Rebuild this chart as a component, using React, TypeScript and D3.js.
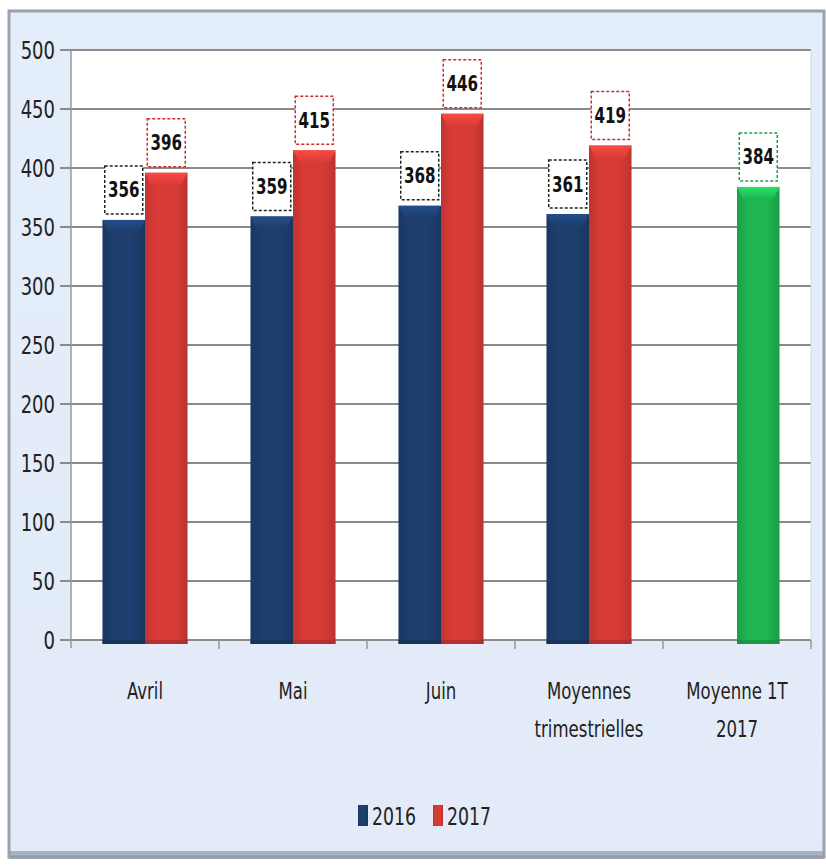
import React from "react";
import * as d3 from "d3";

const categories = ["Avril", "Mai", "Juin", "Moyennes\ntrimestrielles", "Moyenne 1T\n2017"];
const series = ["2016", "2017"];
const values2016 = [356, 359, 368, 361, null];
const values2017 = [396, 415, 446, 419, 384];
const yTicks = [0, 50, 100, 150, 200, 250, 300, 350, 400, 450, 500];

const W = 826;
const H = 867;
const plot = { left: 71, right: 811, top: 50, bottom: 640 };
const FONT = "'DejaVu Sans Condensed', 'Liberation Sans', sans-serif";
const SX = 0.8; // narrow the condensed font a bit more, the original looks like Calibri

const colors: Record<string, string> = { "2016": "#1d3e6e", "2017": "#d83b36", avg: "#1fb552" };
const boxColors: Record<string, string> = { "2016": "#222", "2017": "#d42a2a", avg: "#1e9e4a" };

const x = d3.scaleBand<string>().domain(categories).range([plot.left, plot.right]);
const x1 = d3.scaleBand<string>().domain(series).range([0, x.bandwidth()]).paddingOuter(0.74);
const y = d3.scaleLinear().domain([0, 500]).range([plot.bottom, plot.top]);

type Bar = { cat: string; key: string; value: number; color: string };

const bars: Bar[] = [];
categories.forEach((c, i) => {
  const last = i === categories.length - 1;
  if (values2016[i] != null) bars.push({ cat: c, key: "2016", value: values2016[i] as number, color: "2016" });
  if (values2017[i] != null) bars.push({ cat: c, key: "2017", value: values2017[i] as number, color: last ? "avg" : "2017" });
});

const shade = (c: string, k: number) => d3.color(c)!.brighter(k).formatHex();
const dark = (c: string, k: number) => d3.color(c)!.darker(k).formatHex();

// narrow text drawn at (x, y)
const Txt = ({ x, y, children, ...rest }: any) => (
  <text transform={`translate(${x},${y}) scale(${SX},1)`} {...rest}>
    {children}
  </text>
);

export default function App() {
  return (
    <svg width={W} height={H} style={{ position: "absolute", left: 0, top: 0 }} fontFamily={FONT}>
      <defs>
        <linearGradient id="panel" x1="0" y1="0" x2="0" y2="1">
          <stop offset="0" stopColor="#e4eefa" />
          <stop offset="1" stopColor="#e2ebf7" />
        </linearGradient>
        {Object.keys(colors).map((k) => (
          <linearGradient key={k} id={`g-${k}`} x1="0" y1="0" x2="1" y2="0">
            <stop offset="0" stopColor={dark(colors[k], 0.35)} />
            <stop offset="0.25" stopColor={colors[k]} />
            <stop offset="0.7" stopColor={colors[k]} />
            <stop offset="1" stopColor={dark(colors[k], 0.4)} />
          </linearGradient>
        ))}
        {Object.keys(colors).map((k) => (
          <linearGradient key={k} id={`t-${k}`} x1="0" y1="0" x2="0" y2="1">
            <stop offset="0" stopColor={shade(colors[k], 0.7)} />
            <stop offset="1" stopColor={colors[k]} />
          </linearGradient>
        ))}
      </defs>

      {/* outer panel */}
      <rect x={0} y={0} width={W} height={H} fill="#fff" />
      <rect x={9} y={11} width={815} height={846} fill="url(#panel)" stroke="#9aa3ad" strokeWidth={3} />
      <rect x={9} y={851} width={815} height={8} fill="#8f9aa6" opacity={0.7} />

      {/* plot area */}
      <rect x={plot.left} y={plot.top} width={plot.right - plot.left} height={plot.bottom - plot.top} fill="#fff" />

      {/* gridlines + y ticks */}
      {yTicks.map((t) => (
        <g key={t}>
          <line x1={60} x2={plot.right} y1={y(t)} y2={y(t)} stroke="#8a8a8a" strokeWidth={2} />
          <Txt x={55} y={y(t)} dy="0.36em" textAnchor="end" fontSize={25} fill="#222">
            {t}
          </Txt>
        </g>
      ))}
      <line x1={plot.left} x2={plot.left} y1={plot.top} y2={plot.bottom + 8} stroke="#9a9a9a" strokeWidth={1.5} />
      <line x1={plot.right} x2={plot.right} y1={plot.top} y2={plot.bottom} stroke="#d0d6de" strokeWidth={1} />

      {/* x ticks */}
      {categories.map((c) => (
        <line key={c} x1={(x(c) as number) + x.bandwidth()} x2={(x(c) as number) + x.bandwidth()} y1={plot.bottom} y2={plot.bottom + 9} stroke="#9a9a9a" strokeWidth={1.5} />
      ))}

      {/* bars */}
      {bars.map((b) => {
        const bx = (x(b.cat) as number) + (x1(b.key) as number);
        const bw = x1.bandwidth();
        const top = y(b.value);
        return (
          <g key={b.cat + b.key}>
            <rect x={bx} y={top} width={bw} height={plot.bottom - top + 4} fill={`url(#g-${b.color})`} />
            <path d={`M${bx},${top} L${bx + bw},${top} L${bx + bw - 6},${top + 12} L${bx + 6},${top + 12} Z`} fill={`url(#t-${b.color})`} opacity={0.9} />
            <rect x={bx} y={plot.bottom} width={bw} height={4} fill={dark(colors[b.color], 0.8)} opacity={0.6} />
          </g>
        );
      })}

      {/* value labels */}
      {bars.map((b) => {
        const bx = (x(b.cat) as number) + (x1(b.key) as number);
        const cx = bx + x1.bandwidth() / 2;
        const bottom = y(b.value) - 6;
        const bh = 48;
        const bwid = 38;
        return (
          <g key={"l" + b.cat + b.key}>
            <rect x={cx - bwid / 2} y={bottom - bh} width={bwid} height={bh} fill="#fff" stroke={boxColors[b.color]} strokeWidth={1.5} strokeDasharray="3,2" />
            <Txt x={cx} y={bottom - bh / 2} dy="0.36em" textAnchor="middle" fontSize={21} fontWeight="bold" fill="#111">
              {b.value}
            </Txt>
          </g>
        );
      })}

      {/* category labels */}
      {categories.map((c) => {
        const cx = (x(c) as number) + x.bandwidth() / 2;
        return c.split("\n").map((line, i) => (
          <Txt key={c + i} x={cx} y={699 + i * 38} textAnchor="middle" fontSize={23} fill="#222">
            {line}
          </Txt>
        ));
      })}

      {/* legend */}
      {series.map((s, i) => {
        const lx = 358 + i * 75;
        return (
          <g key={s}>
            <rect x={lx} y={805} width={10} height={21} fill={`url(#g-${s})`} />
            <Txt x={lx + 14} y={816} dy="0.36em" fontSize={24} fill="#222">
              {s}
            </Txt>
          </g>
        );
      })}
    </svg>
  );
}
